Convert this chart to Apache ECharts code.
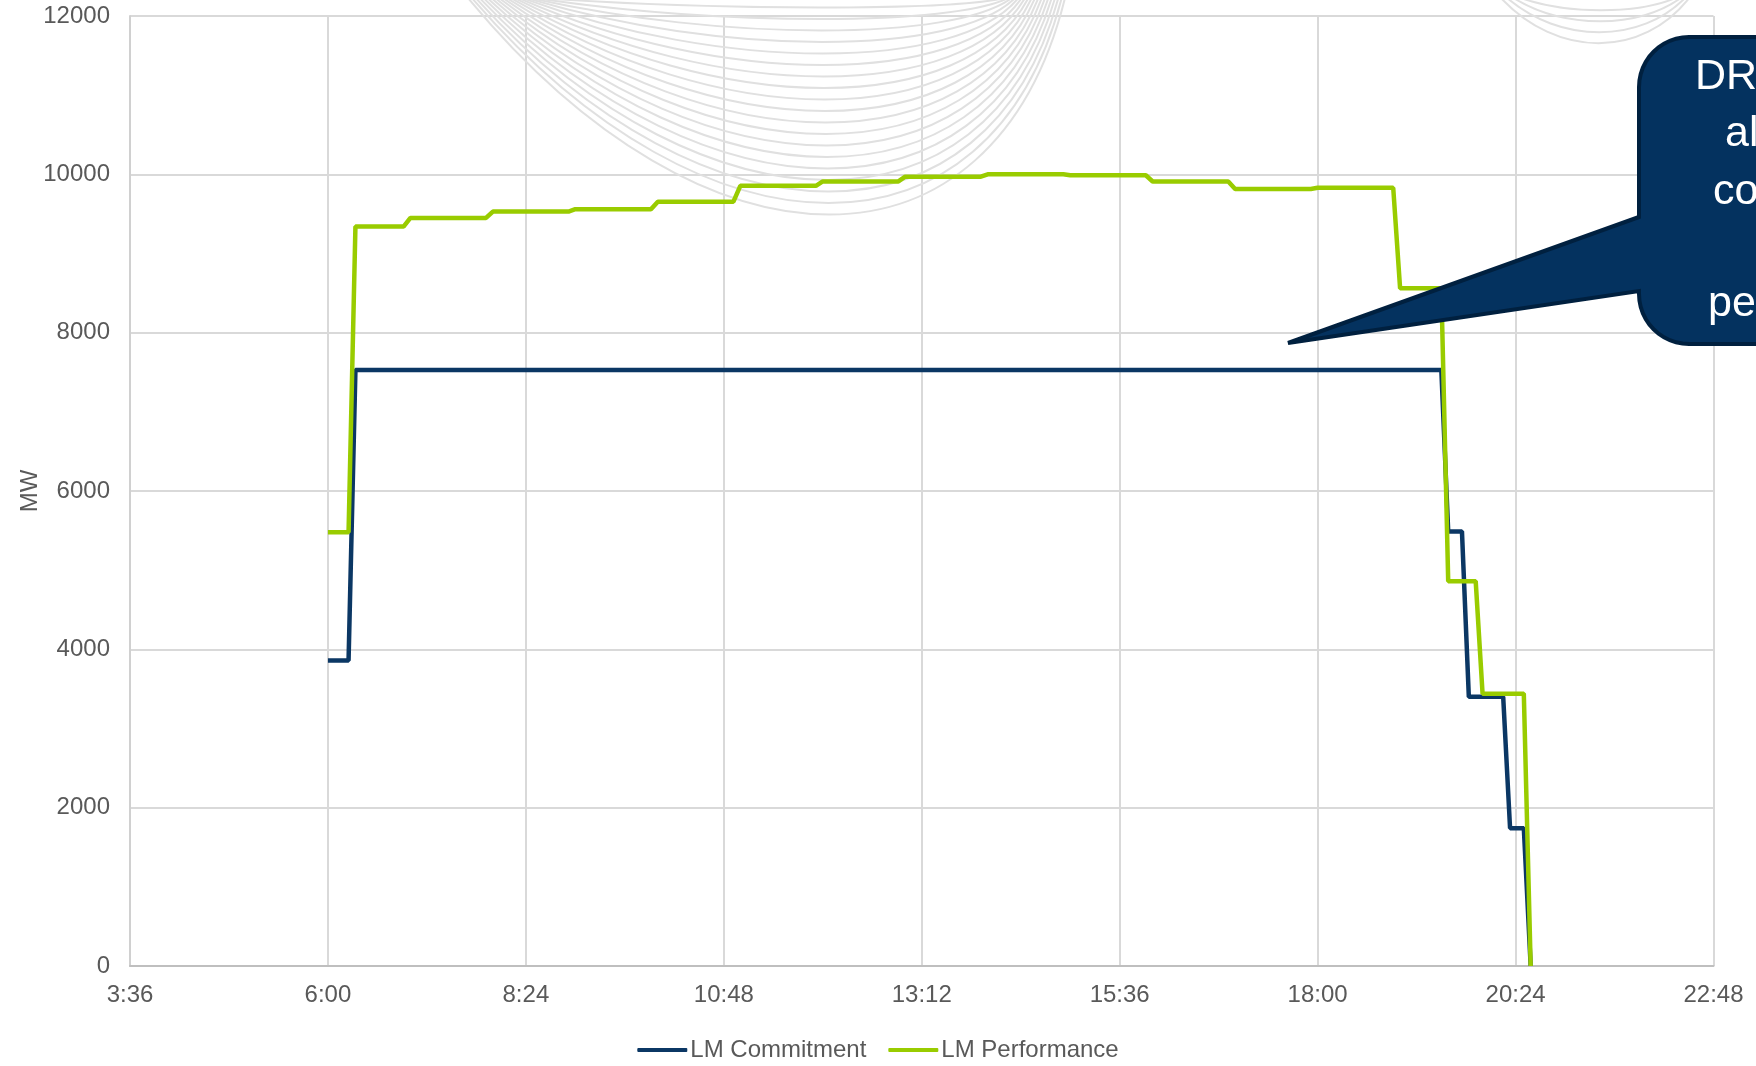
<!DOCTYPE html>
<html>
<head>
<meta charset="utf-8">
<script src="https://cdn.jsdelivr.net/npm/echarts@6/dist/echarts.min.js"></script>
<style>
html,body{margin:0;padding:0;background:#fff;}
#chart{width:1756px;height:1066px;}
</style>
</head>
<body>
<div id="chart"></div>
<script>
// ---- data ----
const xTickLabels = ['3:36','6:00','8:24','10:48','13:12','15:36','18:00','20:24','22:48'];
const yTickLabels = [0,2000,4000,6000,8000,10000,12000];

const commitTimes  = ['6:00','6:15','6:20','19:30','19:35','19:45','19:50','20:15','20:20','20:30','20:35'];
const commitValues = [3860, 3860, 7530, 7530, 5490, 5490, 3400, 3400, 1740, 1740, 0];

const perfTimes  = ['6:00','6:15','6:20','6:55','7:00','7:55','8:00','8:55','9:00','9:55','10:00','10:55',
                    '11:00','11:55','12:00','12:55','13:00','13:55','14:00','14:55','15:00','15:55',
                    '16:00','16:55','17:00','17:55','18:00','18:55','19:00','19:30','19:35','19:55',
                    '20:00','20:30','20:35'];
const perfValues = [5480, 5480, 9340, 9340, 9450, 9450, 9530, 9530, 9560, 9560, 9655, 9655,
                    9855, 9855, 9910, 9910, 9970, 9970, 10000, 10000, 9988, 9988,
                    9910, 9910, 9815, 9815, 9830, 9830, 8560, 8560, 4860, 4860,
                    3440, 3440, 0];

const seriesNames = ['LM Commitment', 'LM Performance'];
const calloutLines = ['DR resources', 'also', 'contributed', '', 'performance'];

// ---- helpers ----
const AXIS_START = 216; // 3:36 in minutes
function toMin(t){ const p = t.split(':'); return (+p[0])*60 + (+p[1]); }
function toLabel(m){ m = Math.round(m); const h = Math.floor(m/60), mm = m%60; return h + ':' + (mm<10?'0':'') + mm; }
function pairs(times, vals){ return times.map((t,i)=>[toMin(t)-AXIS_START, vals[i]]); }

const NAVY = '#0b3764';
const GREEN = '#99cc00';
const TXT = '#595959';
const FONT = '"Liberation Sans", Arial, sans-serif';

// decorative background swirls (template artwork)
const swirls = [];
for (let i = 0; i < 19; i++) {
  const s = i / 18;
  const x0 = 468 + 70*s, x3 = 1065 - 60*s;
  const d = 215*(1-s) + 8*s;
  const c = d/0.75;
  swirls.push({type:'bezierCurve', silent:true, z:1,
    shape:{x1:x0, y1:-2, x2:x3, y2:-2, cpx1:x0+0.4*(x3-x0), cpy1:c, cpx2:x0+0.88*(x3-x0), cpy2:c},
    style:{stroke:'#e0e0e0', lineWidth:2, fill:null}});
}
for (let i = 0; i < 4; i++) {
  const d = 44 - 11*i;
  const c = d/0.75;
  const x0 = 1500 + 6*i, x3 = 1690 - 4*i;
  swirls.push({type:'bezierCurve', silent:true, z:1,
    shape:{x1:x0, y1:-3, x2:x3, y2:-3, cpx1:x0+0.3*(x3-x0), cpy1:c, cpx2:x0+0.75*(x3-x0), cpy2:c},
    style:{stroke:'#e0e0e0', lineWidth:2, fill:null}});
}

// callout shape (rounded box with pointer), as polygon points
const bx = 1639, by0 = 37, by1 = 344, r = 50, bxR = 1960;
const calloutPts = [];
calloutPts.push([bxR, by0], [bxR, by1]);
for (let k = 0; k <= 12; k++) { // bottom-left corner
  const a = Math.PI/2 + (Math.PI/2)*k/12;
  calloutPts.push([bx + r + r*Math.cos(a), by1 - r + r*Math.sin(a)]);
}
calloutPts.push([bx, 291], [1288, 343], [bx, 217]);
for (let k = 0; k <= 12; k++) { // top-left corner
  const a = Math.PI + (Math.PI/2)*k/12;
  calloutPts.push([bx + r + r*Math.cos(a), by0 + r + r*Math.sin(a)]);
}

const calloutX = [1695, 1725, 1713, 1760, 1708];
const calloutY = [77, 134, 192, 248, 304];
const calloutTexts = calloutLines.map((t,i)=>({type:'text', z:11, silent:true,
  x: calloutX[i], y: calloutY[i],
  style:{text:t, fill:'#ffffff', fontSize:43, fontFamily:FONT, verticalAlign:'middle', align:'left'}}));

const chart = echarts.init(document.getElementById('chart'), null, {renderer:'canvas'});
chart.setOption({
  animation:false,
  backgroundColor:'#ffffff',
  grid:{left:130, right:42.5, top:16, bottom:100, containLabel:false, outerBoundsMode:'none'},
  xAxis:{
    type:'value', min:0, max:1152, interval:144,
    axisLine:{show:true, lineStyle:{color:'#bfbfbf', width:2}},
    axisTick:{show:false},
    splitLine:{show:true, lineStyle:{color:'#d9d9d9', width:2}},
    axisLabel:{color:TXT, fontSize:24, fontFamily:FONT, margin:17,
      formatter:function(v){ const idx = Math.round(v/144); return xTickLabels[idx] !== undefined ? xTickLabels[idx] : toLabel(v+AXIS_START); }}
  },
  yAxis:{
    type:'value', min:yTickLabels[0], max:yTickLabels[yTickLabels.length-1], interval:2000,
    name:'MW', nameLocation:'middle', nameGap:88, nameMoveOverlap:false,
    nameTextStyle:{color:TXT, fontSize:24, fontFamily:FONT},
    axisLine:{show:true, lineStyle:{color:'#d0d0d0', width:2}},
    axisTick:{show:false},
    splitLine:{show:true, lineStyle:{color:'#d9d9d9', width:2}},
    axisLabel:{color:TXT, fontSize:24, fontFamily:FONT, margin:20,
      formatter:function(v){ return String(v); }}
  },
  legend:{
    bottom:-1, left:'center', itemWidth:50, itemHeight:4, itemGap:22,
    icon:'roundRect',
    textStyle:{color:TXT, fontSize:24, fontFamily:FONT, padding:[0,0,0,-2]},
    data:seriesNames
  },
  series:[
    {name:seriesNames[0], type:'line', data:pairs(commitTimes, commitValues), symbol:'none',
     lineStyle:{color:NAVY, width:4.5}, itemStyle:{color:NAVY}, z:3},
    {name:seriesNames[1], type:'line', data:pairs(perfTimes, perfValues), symbol:'none',
     lineStyle:{color:GREEN, width:4.5}, itemStyle:{color:GREEN}, z:4}
  ],
  graphic:{elements: swirls.concat([
    {type:'polygon', z:10, silent:true, shape:{points:calloutPts},
     style:{fill:'#04325f', stroke:'#00203f', lineWidth:4}}
  ]).concat(calloutTexts)}
});
</script>
</body>
</html>
